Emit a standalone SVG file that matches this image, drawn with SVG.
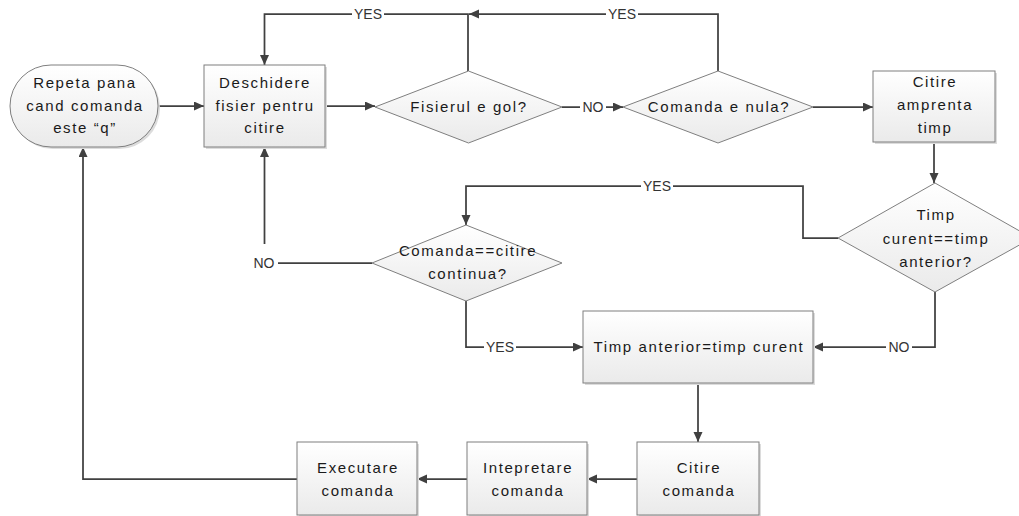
<svg xmlns="http://www.w3.org/2000/svg" width="1019" height="516" viewBox="0 0 1019 516">
  <defs>
    <linearGradient id="nodeFill" x1="0" y1="0" x2="0" y2="1">
      <stop offset="0" stop-color="#ffffff"/>
      <stop offset="1" stop-color="#eaeaea"/>
    </linearGradient>
    <marker id="arrow" markerUnits="userSpaceOnUse" markerWidth="11" markerHeight="10" refX="10" refY="4.5" orient="auto">
      <path d="M0,0 L10,4.5 L0,9 z" fill="#404040"/>
    </marker>
    <style>
      .shape { fill: url(#nodeFill); stroke: #7f7f7f; stroke-width: 1; }
      .shadow { fill: #dcdcdc; }
      .label { font-family: "Liberation Sans", Arial, sans-serif; font-size: 15px; letter-spacing: 1.6px; fill: #1a1a1a; text-anchor: middle; }
      .edge { fill: none; stroke: #404040; stroke-width: 1.75; marker-end: url(#arrow); }
      .tagbg { fill: #ffffff; }
      .tag { font-family: "Liberation Sans", Arial, sans-serif; font-size: 14px; fill: #333333; text-anchor: middle; }
    </style>
  </defs>

  <rect width="1019" height="516" fill="#ffffff"/>

  <!-- connectors with their YES / NO labels -->
  <g id="connectors">
    <path class="edge" d="M158,106 H204"/>
    <path class="edge" d="M325,106 H375"/>
    <path class="edge" d="M562,107 H623"/>
    <path class="edge" d="M813,107 H873"/>
    <path class="edge" d="M468,71 V14 H264.5 V65"/>
    <path class="edge" d="M718,71 V14 H469"/>
    <path class="edge" d="M934,142 V183"/>
    <path class="edge" d="M838,238 H803 V186 H466 V225"/>
    <path class="edge" d="M935,292 V347 H813"/>
    <path class="edge" d="M372,263 H278 M264.5,244 V147"/>
    <path class="edge" d="M466,301 V347 H583"/>
    <path class="edge" d="M698,383 V442"/>
    <path class="edge" d="M637,479 H587"/>
    <path class="edge" d="M467,479 H417"/>
    <path class="edge" d="M297,479 H83 V147"/>

    <rect class="tagbg" x="352" y="7" width="32" height="14"/>
    <text class="tag" x="368" y="19">YES</text>
    <rect class="tagbg" x="606" y="7" width="32" height="14"/>
    <text class="tag" x="622" y="19">YES</text>
    <rect class="tagbg" x="580" y="100" width="26" height="14"/>
    <text class="tag" x="593" y="112">NO</text>
    <rect class="tagbg" x="641" y="179" width="32" height="14"/>
    <text class="tag" x="657" y="191">YES</text>
    <rect class="tagbg" x="886" y="340" width="26" height="14"/>
    <text class="tag" x="899" y="352">NO</text>
    <rect class="tagbg" x="251" y="256" width="26" height="14"/>
    <text class="tag" x="264" y="268">NO</text>
    <rect class="tagbg" x="484" y="340" width="32" height="14"/>
    <text class="tag" x="500" y="352">YES</text>
  </g>

  <g id="start">
    <rect class="shadow" x="12" y="67" width="148" height="82" rx="41"/>
    <rect class="shape" x="10" y="65" width="148" height="82" rx="41"/>
    <text class="label" x="85" y="88">Repeta pana</text>
    <text class="label" x="85" y="111">cand comanda</text>
    <text class="label" x="85" y="133">este “q”</text>
  </g>

  <g id="open-file">
    <rect class="shadow" x="206" y="67" width="121" height="82"/>
    <rect class="shape" x="204" y="65" width="121" height="82"/>
    <text class="label" x="265" y="88">Deschidere</text>
    <text class="label" x="265" y="111">fisier pentru</text>
    <text class="label" x="265" y="133">citire</text>
  </g>

  <g id="file-empty">
    <polygon class="shape" points="468.5,71 562,107 468.5,143 375,107"/>
    <text class="label" x="469" y="112">Fisierul e gol?</text>
  </g>

  <g id="command-null">
    <polygon class="shape" points="718,71 813,107 718,143 623,107"/>
    <text class="label" x="719" y="112">Comanda e nula?</text>
  </g>

  <g id="read-timestamp">
    <rect class="shadow" x="875" y="73" width="122" height="71"/>
    <rect class="shape" x="873" y="71" width="122" height="71"/>
    <text class="label" x="935" y="87">Citire</text>
    <text class="label" x="935" y="110">amprenta</text>
    <text class="label" x="935" y="133">timp</text>
  </g>

  <g id="time-equal">
    <polygon class="shape" points="935,183 1032,238 935,292 838,238"/>
    <text class="label" x="936" y="220">Timp</text>
    <text class="label" x="936" y="244">curent==timp</text>
    <text class="label" x="936" y="267">anterior?</text>
  </g>

  <g id="continuous-read">
    <polygon class="shape" points="466,225 562,263 466,301 372,263"/>
    <text class="label" x="468" y="256">Comanda==citire</text>
    <text class="label" x="468" y="279">continua?</text>
  </g>

  <g id="update-time">
    <rect class="shadow" x="585" y="313" width="230" height="72"/>
    <rect class="shape" x="583" y="311" width="230" height="72"/>
    <text class="label" x="699" y="352">Timp anterior=timp curent</text>
  </g>

  <g id="read-command">
    <rect class="shadow" x="639" y="444" width="122" height="73"/>
    <rect class="shape" x="637" y="442" width="122" height="73"/>
    <text class="label" x="699" y="473">Citire</text>
    <text class="label" x="699" y="496">comanda</text>
  </g>

  <g id="interpret-command">
    <rect class="shadow" x="469" y="444" width="120" height="73"/>
    <rect class="shape" x="467" y="442" width="120" height="73"/>
    <text class="label" x="528" y="473">Intepretare</text>
    <text class="label" x="528" y="496">comanda</text>
  </g>

  <g id="execute-command">
    <rect class="shadow" x="299" y="444" width="120" height="73"/>
    <rect class="shape" x="297" y="442" width="120" height="73"/>
    <text class="label" x="358" y="473">Executare</text>
    <text class="label" x="358" y="496">comanda</text>
  </g>
</svg>
